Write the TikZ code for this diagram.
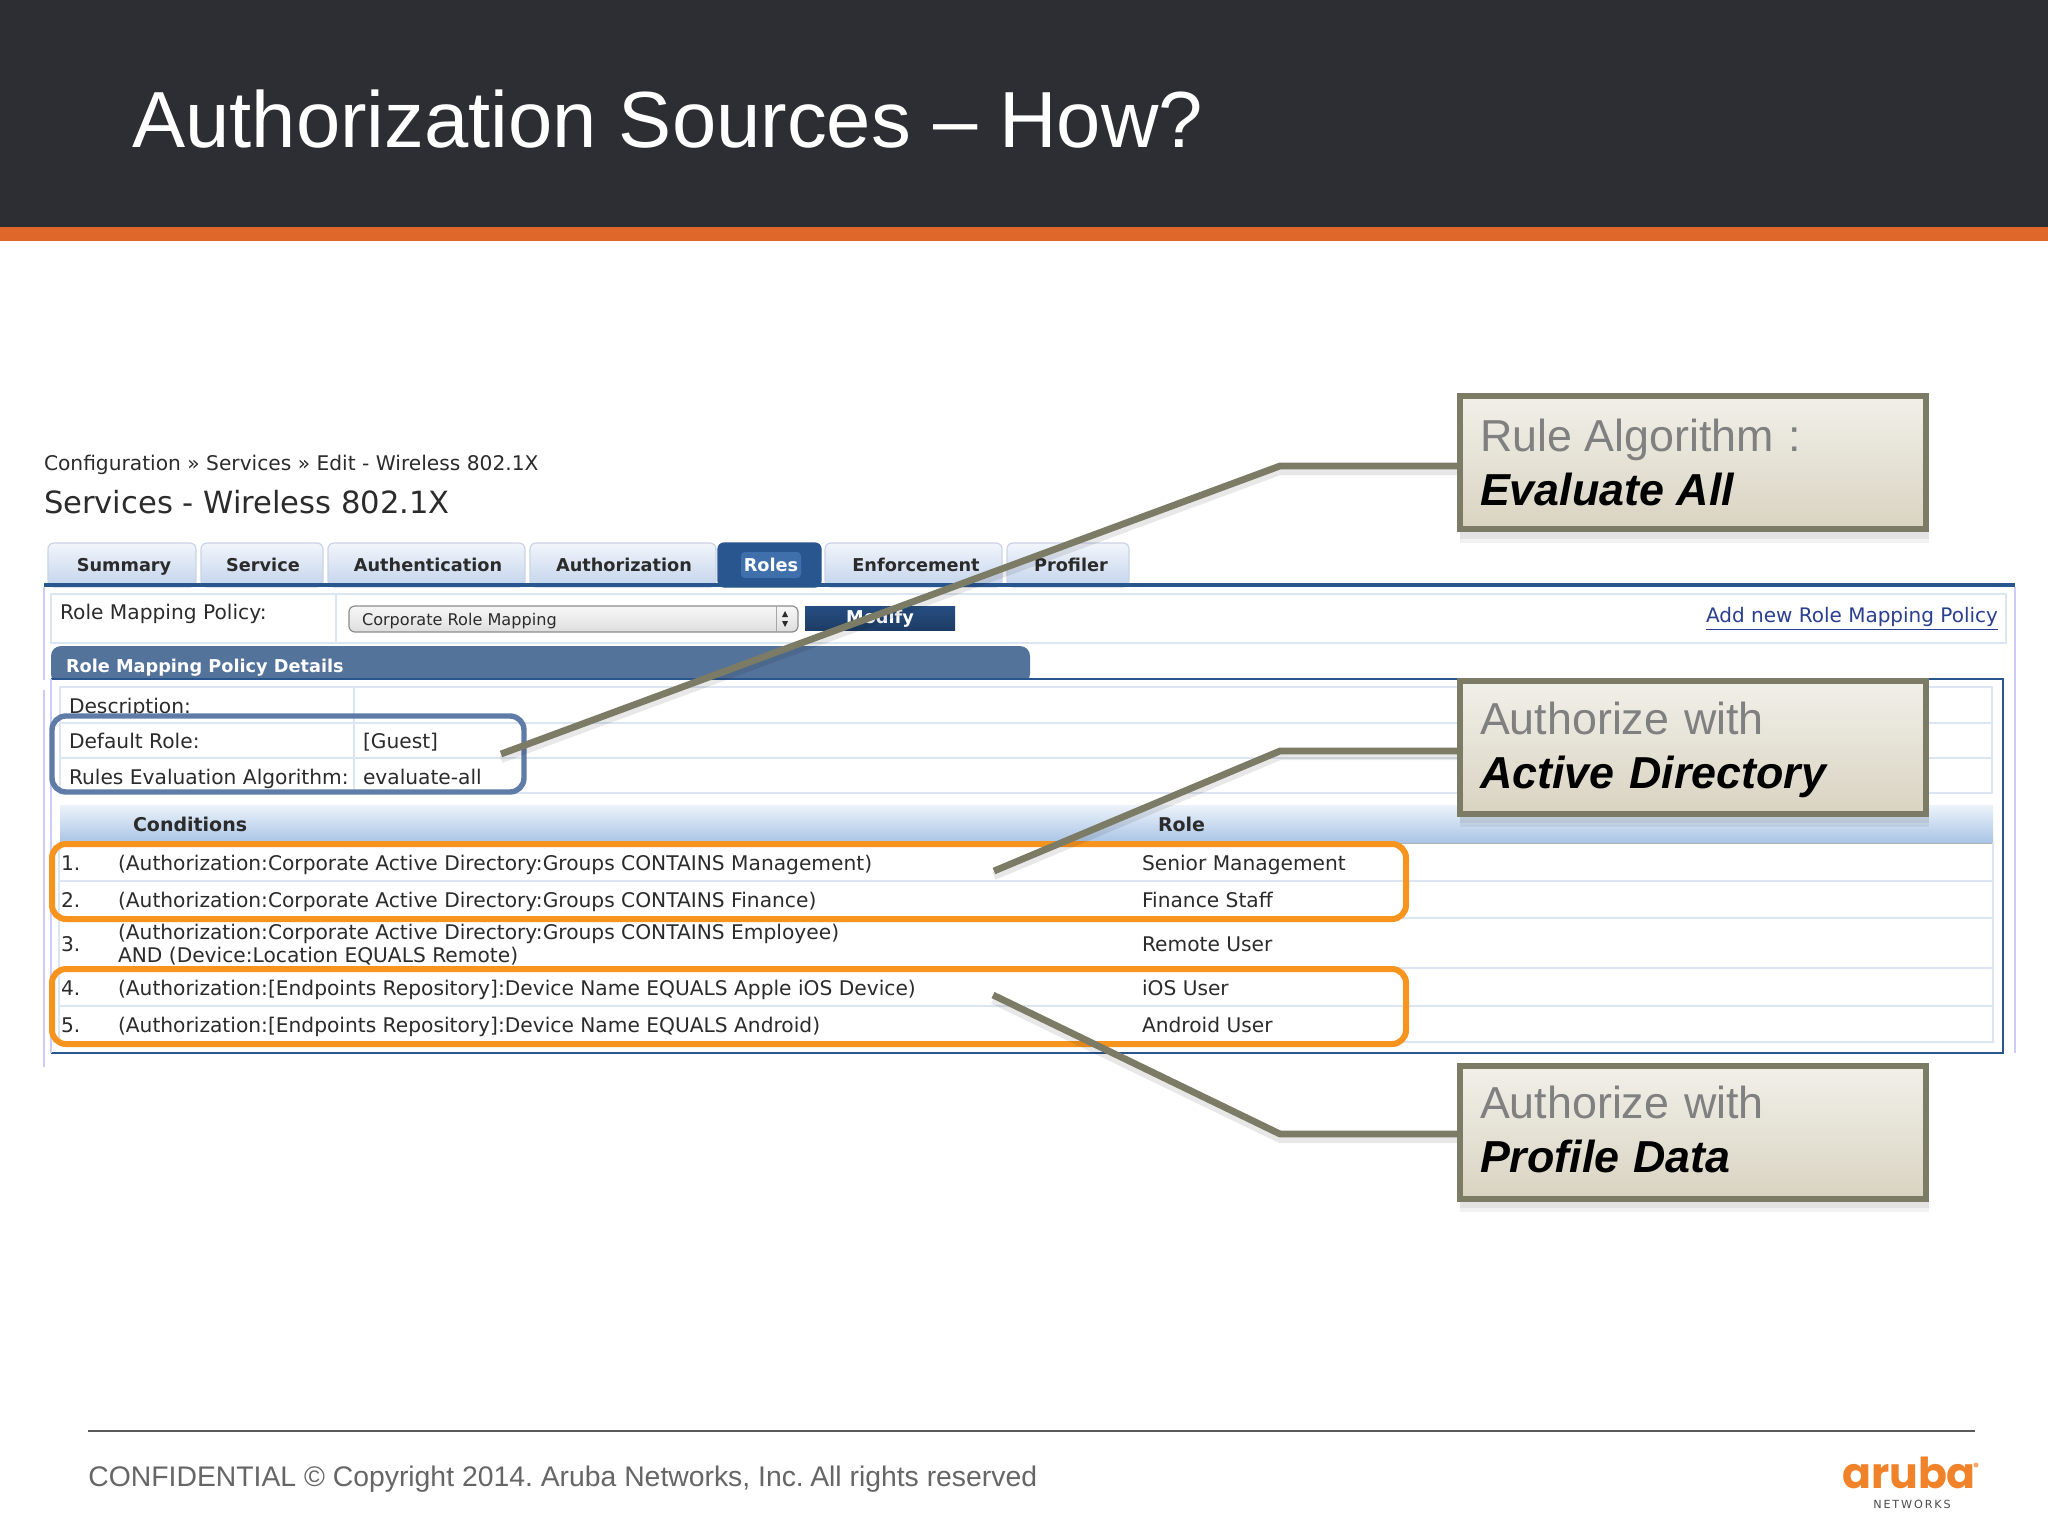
\documentclass[tikz,border=0pt]{standalone}
\usepackage{fontspec}
\setmainfont{Liberation Sans}
\newfontfamily\uifont{DejaVu Sans}
\newfontfamily\logofont{Poppins}
\frenchspacing
\definecolor{band}{HTML}{2D2E33}
\definecolor{bandorange}{HTML}{E0672A}
\definecolor{olive}{HTML}{7B7B66}
\definecolor{hiorange}{HTML}{F7941E}
\definecolor{hiblue}{HTML}{5F7BA8}
\definecolor{navy}{HTML}{2A5690}
\definecolor{panelblue}{HTML}{54739B}
\definecolor{rule}{HTML}{DCE5F2}
\definecolor{uitext}{HTML}{2B2B2B}
\definecolor{logo}{HTML}{F0832A}
\definecolor{tabtop}{HTML}{F2F5FB}
\definecolor{tabbot}{HTML}{C3D4EC}
\definecolor{tabedge}{HTML}{CBD3E6}
\definecolor{headtop}{HTML}{EDF3FA}
\definecolor{headbot}{HTML}{A9C5E6}
\definecolor{rolehi}{HTML}{3F70AC}
\definecolor{linkblue}{HTML}{2A3F8F}
\definecolor{calltop}{HTML}{F1F0E9}
\definecolor{callbot}{HTML}{D9D3C1}
\tikzset{
  x=0.5pt,y=-0.5pt,
  ui/.style={font=\uifont\fontsize{10.1}{12}\selectfont,text=uitext,anchor=base west,inner sep=0pt,outer sep=0pt},
  uibold/.style={font=\uifont\bfseries\fontsize{8.85}{11}\selectfont,text=uitext,anchor=base,inner sep=0pt,outer sep=0pt},
  tabbox/.style={anchor=north west,outer sep=0pt,inner sep=0pt,draw=tabedge,rounded corners=3pt,top color=tabtop,bottom color=tabbot,line width=.6pt,minimum height=22pt},
  callout/.style={draw=olive,line width=3pt,top color=calltop,bottom color=callbot,
    minimum width=233pt,minimum height=66.5pt,text width=213pt,inner xsep=10pt,inner ysep=0pt,outer sep=0pt,align=left,
    font=\fontsize{22.4}{27}\selectfont,text=black!50},
  leader/.style={draw=olive,line width=3.4pt,line join=miter},
  leadershadow/.style={draw=black,opacity=.09,line width=4pt},
  thinrule/.style={draw=rule,line width=.8pt},
  framelight/.style={draw=black!10!blue!20,line width=.7pt},
  hlbox/.style={rounded corners=7pt,anchor=north west,inner sep=0,outer sep=0},
}
\newcommand{\boldline}[1]{\textcolor{black}{\bfseries\itshape #1}}
\begin{document}
\begin{tikzpicture}
\useasboundingbox (0,0) rectangle (2048,1536);
\fill[white] (0,0) rectangle (2048,1536);
% header
\fill[band] (0,0) rectangle (2048,227);
\fill[bandorange] (0,227) rectangle (2048,241);
\node[anchor=base west,inner sep=0,text=white,font=\fontsize{39.8}{48}\selectfont] (title) at (132,148) {Authorization Sources – How?};
% page heading
\node[ui] (crumb) at (44,470) {Configuration » Services » Edit - Wireless 802.1X};
\node[ui,font=\uifont\fontsize{15.3}{18}\selectfont] (heading) at (44,513) {Services - Wireless 802.1X};
% tabs
\node[tabbox,minimum width=74pt] (tab1) at (48,543) {};
\node[tabbox,minimum width=61pt] (tab2) at (201,543) {};
\node[tabbox,minimum width=98.5pt] (tab3) at (328,543) {};
\node[tabbox,minimum width=93pt] (tab4) at (530,543) {};
\node[tabbox,minimum width=51.5pt,draw=navy,top color=navy,bottom color=navy] (tab5) at (718,543) {};
\node[tabbox,minimum width=88.5pt] (tab6) at (825,543) {};
\node[tabbox,minimum width=61pt] (tab7) at (1007,543) {};
\foreach \n/\t/\xx in {1/Summary/124,2/Service/263,3/Authentication/428,4/Authorization/624,6/Enforcement/916,7/Profiler/1071}
  \node[uibold] (tl\n) at (\xx,571) {\t};
\fill[rounded corners=2pt,rolehi] (741,552) rectangle (801,578);
\node[uibold,text=white] (tl5) at (771,571) {Roles};
% outer panel
\draw[framelight] (44,587) -- (44,1067);
\draw[framelight] (2015,587) -- (2015,1053);
\fill[navy] (44,583) rectangle (2015,587);
% policy row
\draw[thinrule] (51,594) rectangle (2006,643);
\draw[thinrule] (336,594) -- (336,643);
\node[ui] (rmp) at (60,619) {Role Mapping Policy:};
\node[draw=black!45,rounded corners=3pt,top color=black!3,bottom color=black!13,anchor=north west,minimum width=224.5pt,minimum height=13pt,inner sep=0,outer sep=0,line width=.6pt] (dropdown) at (349,606) {};
\node[ui,font=\uifont\fontsize{8.06}{10}\selectfont] (dropval) at (362,625) {Corporate Role Mapping};
\draw[draw=black!35,line width=.5pt] (776,606) -- (776,632);
\fill[uitext] (782,617) -- (785,611) -- (788,617) -- cycle;
\fill[uitext] (782,621) -- (785,627) -- (788,621) -- cycle;
\node[anchor=north west,minimum width=75pt,minimum height=12pt,inner sep=0,outer sep=0,top color=navy!90!black,bottom color=navy!70!black] (modify) at (805,606) {};
\node[uibold,text=white] (modifyt) at (880,623) {Modify};
\node[ui,text=linkblue,font=\uifont\fontsize{10}{12}\selectfont] (addnew) at (1706,622) {\underline{Add new Role Mapping Policy}};
% details
\fill[panelblue,rounded corners=5pt] (51,684) -- (51,646) -- (1030,646) -- (1030,684) -- cycle;
\fill[white] (40,680) rectangle (1040,690);
\draw[navy,line width=.8pt] (51,679) -- (2003,679) -- (2003,1053) -- (51,1053);
\draw[framelight] (51,679) -- (51,1053);
\node[ui,font=\uifont\bfseries\fontsize{8.85}{11}\selectfont,text=white] (pd) at (66,672) {Role Mapping Policy Details};
\draw[thinrule] (60,687) rectangle (1992,793);
\draw[thinrule] (60,723) -- (1992,723);
\draw[thinrule] (60,758) -- (1992,758);
\draw[thinrule] (354,687) -- (354,793);
\node[ui] (d1) at (69,713) {Description:};
\node[ui] (d2) at (69,748) {Default Role:};
\node[ui] (d3) at (69,784) {Rules Evaluation Algorithm:};
\node[ui] (v2) at (363,748) {[Guest]};
\node[ui] (v3) at (363,784) {evaluate-all};
% conditions table
\fill[top color=headtop,bottom color=headbot] (60,805) rectangle (1993,842);
\draw[black!30,line width=.5pt] (60,843) -- (1993,843);
\node[uibold,anchor=base west,font=\uifont\bfseries\fontsize{9.5}{11}\selectfont] (hc) at (133,831) {Conditions};
\node[uibold,anchor=base west,font=\uifont\bfseries\fontsize{9.5}{11}\selectfont] (hr) at (1158,831) {Role};
\draw[thinrule] (59,843) -- (59,1042) -- (1993,1042) -- (1993,843);
\foreach \yy in {881,918,968,1006} \draw[thinrule] (59,\yy) -- (1993,\yy);
\foreach \n/\yy/\c/\r in {
  1/870/{(Authorization:Corporate Active Directory:Groups CONTAINS Management)}/{Senior Management},
  2/907/{(Authorization:Corporate Active Directory:Groups CONTAINS Finance)}/{Finance Staff},
  4/995/{(Authorization:[Endpoints Repository]:Device Name EQUALS Apple iOS Device)}/{iOS User},
  5/1032/{(Authorization:[Endpoints Repository]:Device Name EQUALS Android)}/{Android User}}{
  \node[ui] (n\n) at (61,\yy) {\n.};
  \node[ui] (c\n) at (118,\yy) {\c};
  \node[ui] (r\n) at (1142,\yy) {\r};
}
\node[ui] (n3) at (61,951) {3.};
\node[ui] (c3a) at (118,939) {(Authorization:Corporate Active Directory:Groups CONTAINS Employee)};
\node[ui] (c3b) at (118,962) {AND (Device:Location EQUALS Remote)};
\node[ui] (r3) at (1142,951) {Remote User};
% highlights
\node[hlbox,draw=hiblue,line width=2.7pt,minimum width=236pt,minimum height=38pt] (hiA) at (52,716) {};
\node[hlbox,draw=hiorange,line width=3pt,minimum width=677pt,minimum height=37.5pt] (hiB) at (52,844) {};
\node[hlbox,draw=hiorange,line width=3pt,minimum width=677pt,minimum height=37.5pt] (hiC) at (52,969) {};
% callouts
\coordinate (e1) at (501,754); \coordinate (k1) at (1280,466); \coordinate (w1) at (1460,466);
\coordinate (e2) at (994,871); \coordinate (k2) at (1280,751); \coordinate (w2) at (1460,751);
\coordinate (e3) at (993,995); \coordinate (k3) at (1280,1134); \coordinate (w3) at (1460,1134);
\foreach \i in {1,2,3}
  \draw[leadershadow] ([yshift=-2.5pt]e\i) -- ([yshift=-2.5pt]k\i) -- ([yshift=-2.5pt]w\i);
\foreach \yy in {462.5,747,1132}{
  \fill[black,opacity=.05] (1460,\yy-64) rectangle (1929,\yy+80);
  \fill[black,opacity=.06] (1460,\yy-64) rectangle (1929,\yy+76);
}
\node[callout] (cal1) at (1693,462.5) {Rule\kern-.055em\ Algorithm :\\\boldline{Evaluate\kern-.055em\ All}};
\node[callout] (cal2) at (1693,747) {\rule{0pt}{19.5pt}Authorize with\\\boldline{Active Directory}};
\node[callout] (cal3) at (1693,1132) {Authorize with\\\rule[-2.6pt]{0pt}{1pt}\boldline{Profile\kern-.03em\ Data}};
\draw[leader] (e1) -- (k1) -- (cal1.west |- k1);
\draw[leader] (e2) -- (k2) -- (cal2.west |- k2);
\draw[leader] (e3) -- (k3) -- (cal3.west |- k3);
% footer
\draw[draw=black!65,line width=1.4pt] (88,1431) -- (1975,1431);
\node[anchor=base west,inner sep=0,text=black!60,font=\fontsize{14.17}{18}\selectfont] (foot) at (88,1486) {CONFIDENTIAL © Copyright 2014. Aruba Networks, Inc.\kern-.05em\ All rights reserved};
\node[anchor=base,inner sep=0,text=logo,font=\logofont\fontsize{21.3}{24}\selectfont\bfseries] (logoword) at (1909,1488) {aruba};
\fill[logo!70!white] (1976,1465) circle (2.5);
\node[anchor=base,inner sep=0,text=black!70,font=\uifont\fontsize{5.6}{6}\selectfont] (logosub) at (1912,1508) {N\,E\,T\,W\,O\,R\,K\,S};
\end{tikzpicture}
\end{document}
